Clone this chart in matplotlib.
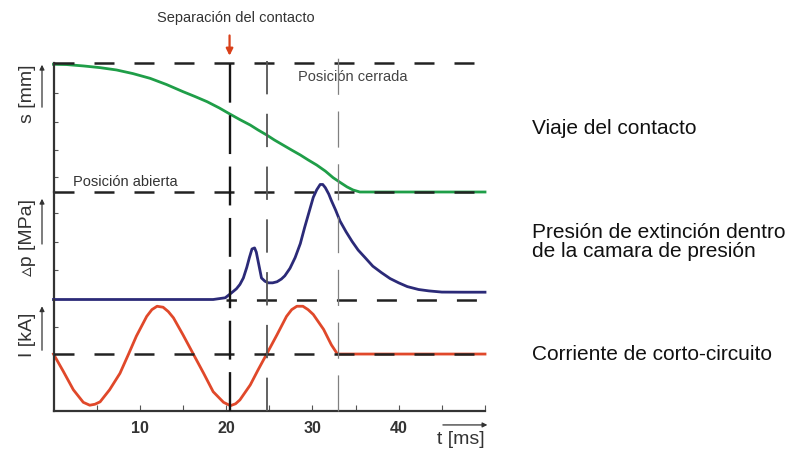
import matplotlib
matplotlib.use("Agg")
import matplotlib.pyplot as plt
import matplotlib.transforms as mtransforms
from matplotlib.lines import Line2D

plt.rcParams["font.family"] = ["Liberation Sans", "DejaVu Sans"]
plt.rcParams["lines.scale_dashes"] = False

# ── Data ─────────────────────────────────────────────────────────────────
# contact travel (1 = closed position, 0 = open position)
t_travel = [0, 1.5, 3.5, 5.4, 7.3, 9.2, 11.2, 13.1, 15.0, 16.4, 17.8, 19.2,
            20.5, 21.6, 22.8, 23.7, 24.7, 25.6, 26.6, 27.6, 28.6, 29.5, 30.5,
            31.5, 32.4, 33.2, 34.0, 34.7, 35.5, 50]
s_travel = [0.99, 0.988, 0.977, 0.964, 0.946, 0.918, 0.881, 0.833, 0.778, 0.74, 0.70, 0.652,
            0.602, 0.561, 0.519, 0.481, 0.442, 0.403, 0.364, 0.325, 0.287, 0.249, 0.209,
            0.162, 0.111, 0.075, 0.04, 0.016, 0.0, 0.0]

# extinction pressure (arbitrary units, 1 = height of the panel)
t_press = [0, 18.5, 19.9, 20.6, 21.2, 21.6, 22.0, 22.4, 22.7, 23.0, 23.3,
           23.5, 23.7, 23.9, 24.1, 24.5, 24.9, 25.4, 25.9, 26.4, 26.8, 27.4,
           28.0, 28.6, 29.1, 29.6, 30.1, 30.5, 30.9, 31.2, 31.5, 31.9, 32.2,
           32.7, 33.2, 33.9, 34.6, 35.3, 36.1, 37.0, 38.0, 39.0, 40.0, 41.0,
           42.3, 43.5, 45.0, 47.5, 50]
p_press = [0, 0, 0.016, 0.06, 0.10, 0.14, 0.20, 0.30, 0.39, 0.47, 0.48,
           0.44, 0.36, 0.28, 0.20, 0.17, 0.155, 0.155, 0.165, 0.19, 0.22, 0.29,
           0.39, 0.52, 0.67, 0.81, 0.95, 1.02, 1.07, 1.07, 1.04, 0.98, 0.92,
           0.83, 0.73, 0.63, 0.54, 0.46, 0.39, 0.31, 0.25, 0.195, 0.155, 0.12,
           0.093, 0.08, 0.069, 0.068, 0.068]

# short-circuit current (arbitrary units)
t_curr = [0, 1.14, 2.3, 3.45, 4.2, 4.8, 5.4, 6.5, 7.7, 8.7, 9.6, 10.8, 11.4, 12.0,
          12.7, 13.3, 13.9, 15.0, 16.2, 17.4, 18.5, 19.7, 20.5, 21.1, 21.6, 22.8,
          23.7, 24.7, 25.9, 27.0, 27.6, 28.2, 28.9, 29.5, 30.1, 31.3, 32.2, 32.9, 50]
i_curr = [0, -0.36, -0.74, -1.0, -1.06, -1.04, -0.99, -0.74, -0.4, 0, 0.37, 0.78, 0.92, 0.99,
          0.97, 0.88, 0.75, 0.40, 0, -0.4, -0.78, -1.0, -1.07, -1.03, -0.95, -0.64,
          -0.33, 0, 0.40, 0.78, 0.92, 0.99, 0.99, 0.92, 0.82, 0.51, 0.19, 0, 0]

t_separation = 20.4
t_markers = [20.4, 24.7, 33.0]
x_ticks = [5, 10, 15, 20, 25, 30, 35, 40, 45, 50]
x_ticklabels = ["", "10", "", "20", "", "30", "", "40", "", ""]

GREEN = "#1f9e48"
NAVY = "#2b2a78"
RED = "#e0482a"
DARK = "#222222"
DASH_H = (0, (14.4, 14.4))

W, H = 794, 454
fig = plt.figure(figsize=(W / 100, H / 100), dpi=100)


def px_axes(x0, y_top, x1, y_bot):
    return fig.add_axes([x0 / W, (H - y_bot) / H, (x1 - x0) / W, (y_bot - y_top) / H])


ax_s = px_axes(53.5, 63, 485, 192)
ax_p = px_axes(53.5, 192, 485, 299.5)
ax_i = px_axes(53.5, 299.5, 485, 411)

for ax in (ax_s, ax_p, ax_i):
    ax.set_xlim(0, 50)
    ax.patch.set_alpha(0)
    for side in ("top", "right", "bottom"):
        ax.spines[side].set_visible(False)
    ax.spines["left"].set_color("#333333")
    ax.spines["left"].set_linewidth(1.6)
    ax.tick_params(axis="y", direction="in", length=3, width=0.8, color="#555555",
                   labelleft=False)
    ax.tick_params(axis="x", bottom=False, labelbottom=False)

ax_s.set_ylim(0, 1)
ax_p.set_ylim(0, 1)
ax_i.set_ylim(-1.18, 1.13)
ax_s.set_yticks([0.116, 0.326, 0.543, 0.767])
ax_p.set_yticks([0.278, 0.537, 0.806])
ax_i.set_yticks([0.5625])

ax_i.spines["bottom"].set_visible(True)
ax_i.spines["bottom"].set_color("#333333")
ax_i.spines["bottom"].set_linewidth(1.6)
ax_i.set_xticks(x_ticks)
ax_i.set_xticklabels(x_ticklabels)
ax_i.tick_params(axis="x", bottom=True, labelbottom=True, direction="in", length=4,
                 width=0.8, color="#555555", labelsize=11.5, labelcolor="#333333", pad=7)
for lbl in ax_i.get_xticklabels():
    lbl.set_fontweight("bold")

# horizontal reference lines
ax_s.axhline(1.0, color=DARK, lw=1.8, ls=DASH_H, zorder=3, clip_on=False)
ax_s.axhline(0.0, color=DARK, lw=1.8, ls=DASH_H, zorder=3, clip_on=False)
ax_p.axhline(0.0, xmin=0.4, color=DARK, lw=1.8, ls=(6.9, (14.4, 14.4)), zorder=1,
             clip_on=False)
ax_i.axhline(0.0, color=DARK, lw=1.8, ls=DASH_H, zorder=3, clip_on=False)

# curves
ax_s.plot(t_travel, s_travel, color=GREEN, lw=2.0, zorder=2, clip_on=False)
ax_p.plot(t_press, p_press, color=NAVY, lw=2.0, zorder=4, clip_on=False)
ax_i.plot(t_curr, i_curr, color=RED, lw=2.0, zorder=2, clip_on=False)

# vertical marker lines across all three panels
trans = mtransforms.blended_transform_factory(ax_i.transData, fig.transFigure)
y_lo, y_hi = (H - 411) / H, (H - 57) / H
styles = [("#151515", 1.7, (0, (28, 9))),
          ("#555555", 1.3, (0, (24, 14))),
          ("#808080", 0.9, (0, (26, 12)))]
for tm, (c, lw, ls) in zip(t_markers, styles):
    fig.add_artist(Line2D([tm, tm], [y_lo, y_hi], transform=trans, color=c, lw=lw, ls=ls,
                          zorder=5))

# annotations
ax_s.annotate("", xy=(t_separation, 1.035), xytext=(t_separation, 1.235),
              xycoords="data", textcoords="data",
              arrowprops=dict(arrowstyle="-|>", color="#d9401a", lw=1.6, mutation_scale=10),
              annotation_clip=False)
ax_s.text(21.1, 1.35, "Separación del contacto", fontsize=10.5, color="#333333",
          ha="center", va="center", clip_on=False)
ax_s.text(28.3, 0.89, "Posición cerrada", fontsize=10.5, color="#444444",
          ha="left", va="center")
ax_s.text(2.3, 0.08, "Posición abierta", fontsize=10.5, color="#333333",
          ha="left", va="center")

# y labels with small arrows
label_x = (27 - 53.5) / 431.5
arrow_x = (42 - 53.5) / 431.5
for ax, text, yc, (a0, a1) in [(ax_s, "s [mm]", 0.765, (0.636, 1.008)),
                               (ax_p, "▵p [MPa]", 0.58, (0.49, 0.963)),
                               (ax_i, "I [kA]", 0.685, (0.52, 0.964))]:
    ax.text(label_x, yc, text, transform=ax.transAxes, rotation=90, fontsize=14,
            color="#333333", ha="center", va="center")
    ax.annotate("", xy=(arrow_x, a1), xytext=(arrow_x, a0), xycoords="axes fraction",
                arrowprops=dict(arrowstyle="-|>", color="#333333", lw=0.9,
                                mutation_scale=7),
                annotation_clip=False)

# time axis label
ax_i.annotate("", xy=(1.012, -0.125), xytext=(0.896, -0.125), xycoords="axes fraction",
              arrowprops=dict(arrowstyle="-|>", color="#333333", lw=0.9, mutation_scale=7),
              annotation_clip=False)
fig.text(461 / W, (H - 440) / H, "t [ms]", fontsize=14, color="#333333",
         ha="center", va="center")

# right-hand descriptions
fig.text(532 / W, (H - 129) / H, "Viaje del contacto", fontsize=15, color="#111111",
         ha="left", va="center")
fig.text(532 / W, (H - 242) / H, "Presión de extinción dentro\nde la camara de presión",
         fontsize=15, color="#111111", ha="left", va="center", linespacing=0.95)
fig.text(532 / W, (H - 354) / H, "Corriente de corto-circuito", fontsize=15,
         color="#111111", ha="left", va="center")

fig.savefig("out.png", dpi=100)
